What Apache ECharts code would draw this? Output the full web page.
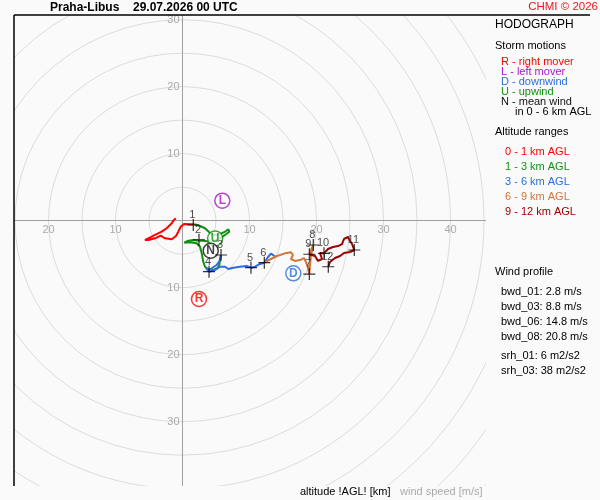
<!DOCTYPE html>
<html><head><meta charset="utf-8">
<script src="https://cdn.jsdelivr.net/npm/echarts@6/dist/echarts.min.js"></script>
<style>html,body{margin:0;padding:0;background:#fafafa;}#c{width:600px;height:500px;}</style>
</head><body><div id="c"></div>
<script>
// ---- data (u, v in m/s) ----
const seg01 = [[-1.01,0.36],[-1.37,0],[-1.61,-0.39],[-2.36,-1.13],[-3.10,-1.64],[-4.10,-2.13],[-5.10,-2.63],[-5.60,-2.88],[-5.10,-2.88],[-4.10,-2.63],[-3.25,-2.24],[-2.61,-2.63],[-1.61,-2.78],[-0.97,-2.28],[-0.63,-1.64],[-0.27,-0.90],[0.22,-0.49],[1.12,-0.54],[1.76,-0.54]];
const seg13 = [[1.76,-0.54],[2.61,-0.79],[3.36,-1.13],[4.00,-1.73],[4.51,-2.13],[5.19,-2.13],[5.85,-1.88],[6.49,-1.54],[6.84,-1.28],[6.99,-1.64],[6.49,-2.03],[5.85,-2.48],[5.10,-2.88],[4.10,-3.13],[3.10,-2.99],[2.46,-2.99],[1.61,-2.88],[0.87,-2.99],[0.27,-3.28],[1.12,-3.22],[2.12,-3.37],[2.61,-3.88],[2.87,-4.87],[3.10,-6.12],[3.36,-6.87],[3.85,-7.25],[4.60,-7.36],[5.19,-7.10],[5.49,-6.61],[5.60,-5.87],[5.75,-5.12]];
const seg36 = [[5.75,-5.12],[5.49,-6.12],[5.10,-6.61],[4.36,-7.10],[3.85,-7.36],[3.51,-7.06],[3.96,-7.61],[4.85,-7.36],[5.60,-6.87],[6.34,-6.87],[6.84,-7.21],[7.58,-7.01],[8.58,-6.87],[9.58,-6.76],[10.22,-7.01],[10.82,-6.87],[11.57,-6.46],[12.21,-6.27],[12.76,-5.42],[13.21,-4.90],[13.81,-5.34]];
const seg69 = [[12.21,-6.27],[13.06,-5.79],[14.10,-5.27],[15.30,-4.87],[16.19,-4.72],[16.49,-5.12],[16.19,-5.72],[16.79,-6.01],[17.54,-5.87],[18.13,-5.57],[18.43,-6.16],[18.73,-7.06],[18.93,-7.96],[19.03,-6.61],[19.18,-5.12],[19.52,-3.63],[19.18,-4.37],[18.93,-5.01]];
const seg912 = [[18.93,-5.01],[19.78,-5.27],[20.22,-6.01],[20.82,-5.72],[20.52,-4.82],[21.12,-4.87],[21.72,-4.22],[22.46,-3.93],[23.21,-3.78],[23.81,-3.49],[24.10,-2.73],[24.70,-2.43],[25.00,-3.03],[25.30,-3.48],[25.64,-4.37],[25.00,-4.67],[24.10,-4.82],[23.51,-5.27],[22.76,-5.57],[22.01,-6.16],[21.76,-6.87]];
const kmLabels = ['1','2','3','4','5','6','7','8','9','10','11','12'];
const kmU = [1.61,2.46,5.75,3.96,10.22,12.21,18.93,19.52,18.93,21.12,25.64,21.76];
const kmV = [-0.64,-2.84,-5.12,-7.61,-7.01,-6.27,-7.96,-3.63,-5.01,-4.87,-4.37,-6.87];
const stormLetters = ['R','L','D','U','N'];
const stormU = [2.46,5.94,16.54,4.87,4.21];
const stormV = [-11.69,2.99,-7.85,-2.64,-4.48];
const uRange = [-30, 50];
const vRange = [-40, 40];
const uLabelled = [-20,-10,10,20,30,40];
const vLabelled = [-30,-20,-10,10,20,30];
const tickStep = 10;
const ringStep = 5;
const ringMax = 60;
const stormLegend = ['R - right mover','L - left mover','D - downwind','U - upwind','N - mean wind'];
const altLegend = ['0 - 1 km AGL','1 - 3 km AGL','3 - 6 km AGL','6 - 9 km AGL','9 - 12 km AGL'];
const profileLines = ['bwd_01: 2.8 m/s','bwd_03: 8.8 m/s','bwd_06: 14.8 m/s','bwd_08: 20.8 m/s'];
const srhLines = ['srh_01: 6 m2/s2','srh_03: 38 m2/s2'];

// ---- layout / styles ----
const PX = 6.7;              // pixels per m/s
const ORIGIN = [182.5, 220.7];
const BG = '#fafafa';
const FONT = '"Liberation Sans", Arial, sans-serif';
const C = {red:'#ff0000', purple:'#a818c8', blue:'#2a6ee0', green:'#129012', orange:'#d2743c', dred:'#a00000', black:'#111'};
const stormColors = {R:C.red, L:C.purple, D:C.blue, U:C.green, N:C.black};
const segColors = [C.red, C.green, C.blue, C.orange, C.dred];
const stormLegendColors = [C.red, C.purple, C.blue, C.green, C.black];

const chart = echarts.init(document.getElementById('c'), null, {renderer:'canvas'});

const lineSeries = [seg01, seg13, seg36, seg69, seg912].map((d,i)=>({
  type:'line', data:d, showSymbol:false, smooth:false, z:3,
  lineStyle:{color:segColors[i], width:2}, silent:true, animation:false
}));

const graphics = [
  {type:'rect', shape:{x:486,y:0,width:114,height:500}, style:{fill:BG}, z:50},
  {type:'rect', shape:{x:0,y:486,width:486,height:14}, style:{fill:BG}, z:50},
  {type:'rect', shape:{x:0,y:0,width:486,height:15}, style:{fill:BG}, z:50},
  {type:'rect', shape:{x:0,y:0,width:14,height:500}, style:{fill:BG}, z:50},
  {type:'line', shape:{x1:14,y1:15,x2:590,y2:15}, style:{stroke:'#000',lineWidth:1.5}, z:60},
  {type:'line', shape:{x1:14,y1:15,x2:14,y2:486}, style:{stroke:'#000',lineWidth:1.5}, z:60},
  {type:'text', x:50, y:2, style:{text:'Praha-Libus', font:'bold 12px '+FONT, fill:'#000'}, z:60},
  {type:'text', x:133, y:2, style:{text:'29.07.2026 00 UTC', font:'bold 12px '+FONT, fill:'#000'}, z:60},
  {type:'text', x:598, y:1, style:{text:'CHMI © 2026', font:'11.5px '+FONT, fill:'#e81818', align:'right'}, z:60},
  {type:'text', x:495, y:19, style:{text:'HODOGRAPH', font:'12px '+FONT, fill:'#000'}, z:60},
  {type:'text', x:495, y:40, style:{text:'Storm motions', font:'11px '+FONT, fill:'#000'}, z:60},
  {type:'text', x:515, y:106, style:{text:'in 0 - 6 km AGL', font:'11px '+FONT, fill:'#000'}, z:60},
  {type:'text', x:495, y:126, style:{text:'Altitude ranges', font:'11px '+FONT, fill:'#000'}, z:60},
  {type:'text', x:495, y:266, style:{text:'Wind profile', font:'11px '+FONT, fill:'#000'}, z:60},
  {type:'text', x:300, y:486, style:{text:'altitude !AGL! [km]', font:'11px '+FONT, fill:'#000'}, z:60},
  {type:'text', x:400, y:486, style:{text:'wind speed [m/s]', font:'11px '+FONT, fill:'#aaa'}, z:60}
];
stormLegend.forEach((t,i)=>graphics.push({type:'text', x:501, y:56+i*10, style:{text:t, font:'11px '+FONT, fill:stormLegendColors[i]}, z:60}));
altLegend.forEach((t,i)=>graphics.push({type:'text', x:505, y:146+i*15, style:{text:t, font:'11px '+FONT, fill:segColors[i]}, z:60}));
profileLines.forEach((t,i)=>graphics.push({type:'text', x:501, y:286+i*15, style:{text:t, font:'11px '+FONT, fill:'#000'}, z:60}));
srhLines.forEach((t,i)=>graphics.push({type:'text', x:501, y:350+i*15, style:{text:t, font:'11px '+FONT, fill:'#000'}, z:60}));

const gridLeft = ORIGIN[0] + uRange[0]*PX;
const gridTop = ORIGIN[1] - vRange[1]*PX;
const gridW = (uRange[1]-uRange[0])*PX;
const gridH = (vRange[1]-vRange[0])*PX;
const labelFor = list => v => (list.indexOf(v) >= 0 ? String(Math.abs(v)) : '');

const option = {
  backgroundColor:BG,
  animation:false,
  grid:{left:gridLeft, top:gridTop, width:gridW, height:gridH, containLabel:false, outerBoundsMode:'none'},
  polar:{center:ORIGIN, radius:ringMax*PX},
  radiusAxis:{type:'value', min:0, max:ringMax, interval:ringStep, axisLine:{show:false}, axisTick:{show:false}, axisLabel:{show:false},
    splitLine:{show:true, lineStyle:{color:'#dcdcdc', width:1}}},
  angleAxis:{type:'value', min:0, max:360, show:false},
  xAxis:{type:'value', position:'bottom', min:uRange[0], max:uRange[1], interval:tickStep,
    offset:-(gridTop + gridH - ORIGIN[1]),
    axisLine:{onZero:false, lineStyle:{color:'#a0a0a0', width:1}},
    axisTick:{show:false}, splitLine:{show:false},
    axisLabel:{show:true, margin:4, color:'#aaa', fontSize:11, fontFamily:FONT, formatter:labelFor(uLabelled)}},
  yAxis:{type:'value', position:'left', min:vRange[0], max:vRange[1], interval:tickStep,
    offset:-(ORIGIN[0] - gridLeft),
    axisLine:{onZero:false, lineStyle:{color:'#a0a0a0', width:1}},
    axisTick:{show:false}, splitLine:{show:false},
    axisLabel:{show:true, margin:3, color:'#aaa', fontSize:11, fontFamily:FONT, formatter:labelFor(vLabelled)}},
  graphic:{elements:graphics},
  series:[
    ...lineSeries,
    {type:'scatter', z:5, silent:true,
      data:stormLetters.map((l,i)=>({value:[stormU[i],stormV[i]], name:l,
        itemStyle:{color:'#fff', borderColor:stormColors[l], borderWidth:1.5},
        label:{color:stormColors[l]}})),
      symbol:'circle', symbolSize:15,
      label:{show:true, position:'inside', formatter:p=>p.name, fontWeight:'bold', fontSize:12, fontFamily:FONT}},
    {type:'scatter', z:6, silent:true,
      data:kmLabels.map((l,i)=>({value:[kmU[i],kmV[i]], name:l})),
      symbol:'path://M0,-10 L0,10 M-10,0 L10,0', symbolSize:12,
      itemStyle:{color:'none', borderColor:'#000', borderWidth:1.2},
      label:{show:true, position:'inside', offset:[-1,-10], formatter:p=>p.name, color:'#222', fontSize:11, fontFamily:FONT}}
  ]
};
chart.setOption(option);
</script>
</body></html>
